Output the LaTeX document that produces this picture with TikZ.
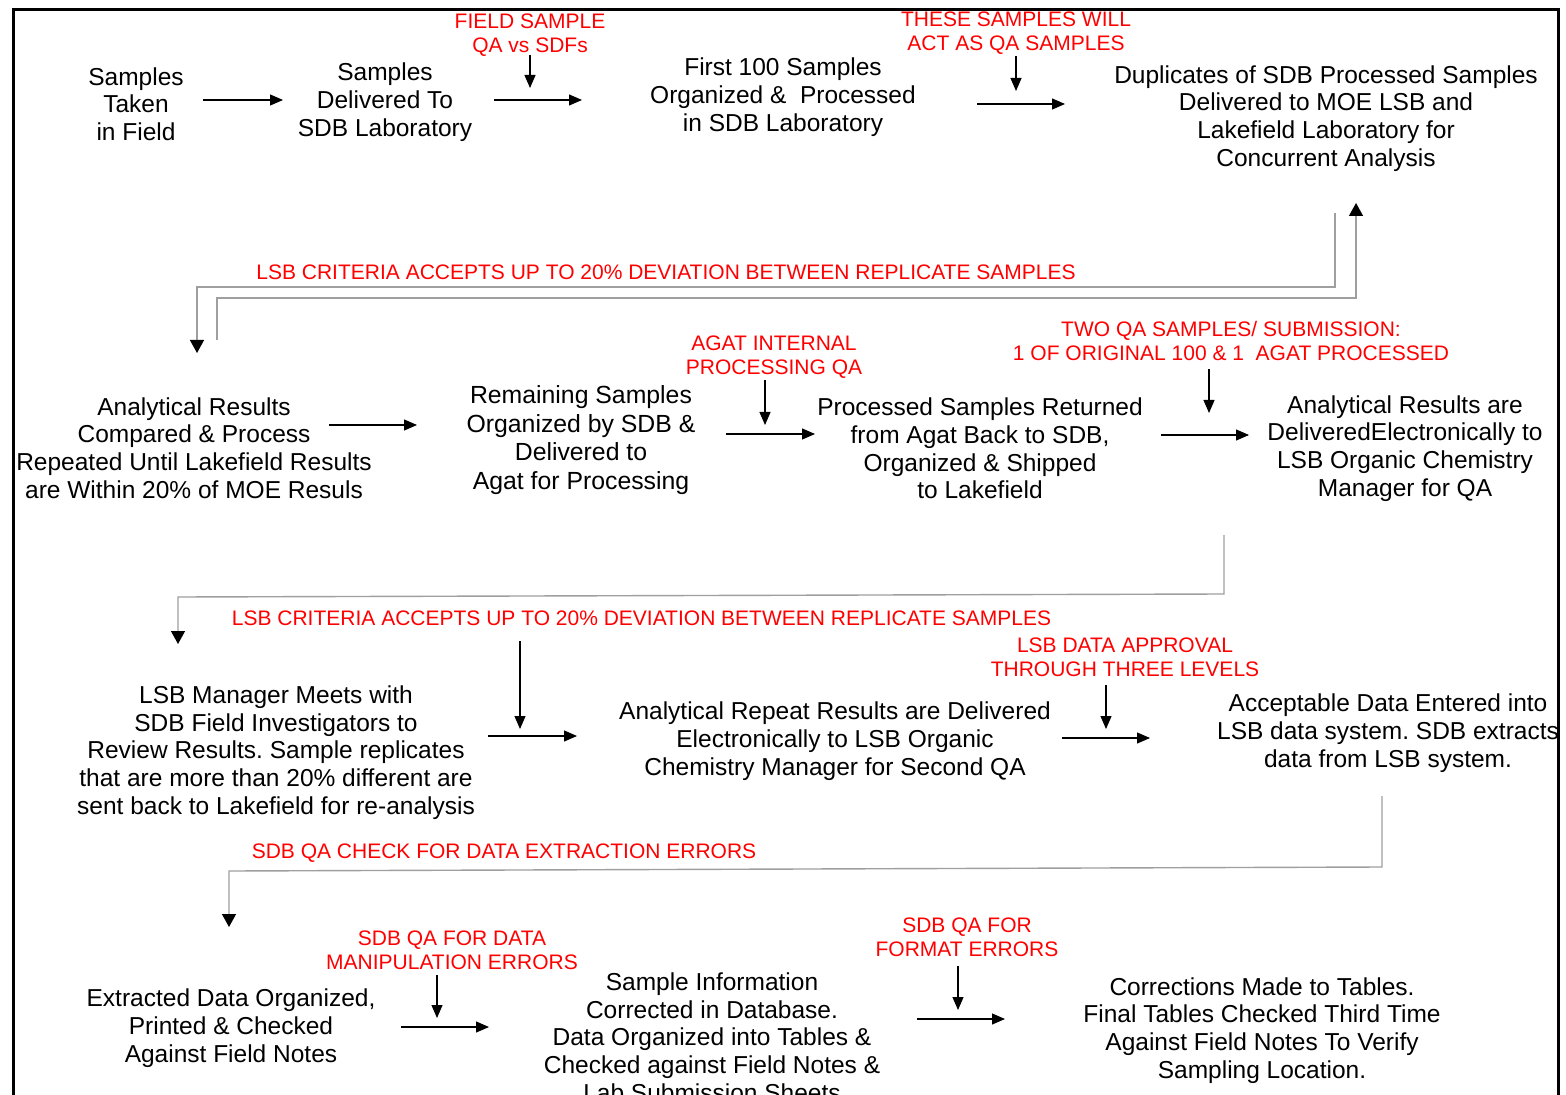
\documentclass[tikz,border=0pt]{standalone}
\usepackage{fontspec}
\setmainfont{Liberation Sans}
\usetikzlibrary{arrows.meta}
\frenchspacing
\begin{document}
\begin{tikzpicture}[x=0.5pt,y=-0.5pt,
  box/.style={align=center,inner sep=0pt,font=\frenchspacing\fontsize{12.25pt}{13.85pt}\selectfont},
  note/.style={align=center,inner sep=0pt,text=red,font=\fontsize{10.5pt}{11.75pt}\selectfont},
  arr/.style={line width=0.55pt,-{Triangle[length=6.5pt,width=5.5pt]}},
  backline/.style={draw=gray!75,line width=0.7pt,-{Triangle[length=6.5pt,width=7pt,color=black]}}]
\useasboundingbox (0,0) rectangle (1566,1095);
\clip (0,0) rectangle (1566,1095);
\fill[white] (0,0) rectangle (1566,1095);
% frame
\draw[line width=1.5pt,line join=miter] (13,1200) -- (13,10) -- (1558.5,10) -- (1558.5,1200);

% ---------- Row 1 ----------
\node[box] (n1) at (136,104) {Samples\\Taken\\in Field};
\node[box] (n2) at (385,102) {Samples\\Delivered To\\SDB Laboratory};
\node[box] (n3) at (783,97) {First 100 Samples\\Organized \&~ Processed\\in SDB Laboratory};
\node[box] (n4) at (1326,118.5) {Duplicates of SDB Processed Samples\\Delivered to MOE LSB and\\Lakefield Laboratory for\\Concurrent Analysis};
\node[note] (q1) at (530,35) {FIELD SAMPLE\\QA vs SDFs};
\node[note] (q2) at (1016,33) {THESE SAMPLES WILL\\ACT AS QA SAMPLES};

\coordinate (a1s) at (203,100); \coordinate (a1e) at (283,100);
\coordinate (a2s) at (494,100); \coordinate (a2e) at (582,100);
\coordinate (a3s) at (977,104); \coordinate (a3e) at (1065,104);
\draw[arr] (a1s) -- (a1e);
\draw[arr] (a2s) -- (a2e);
\draw[arr] (a3s) -- (a3e);
\coordinate (d1e) at (530,88); \draw[arr] (q1.south |- 0,55) -- (d1e);
\coordinate (d2e) at (1016,91); \draw[arr] (q2.south |- 0,56) -- (d2e);

% feedback between row 1 and row 2
\node[note] (q3) at (666,272) {LSB CRITERIA ACCEPTS UP TO 20\% DEVIATION BETWEEN REPLICATE SAMPLES};
\coordinate (fAs) at (1335,213); \coordinate (fAe) at (197,353);
\draw[backline] (fAs) -- (1335,287) -- (197,287) -- (fAe);
\coordinate (fBs) at (217,340); \coordinate (fBe) at (1356,203);
\draw[backline] (fBs) -- (217,298) -- (1356,298) -- (fBe);

% ---------- Row 2 ----------
\node[box] (m1) at (194,448) {Analytical Results\\Compared \& Process\\Repeated Until Lakefield Results\\are Within 20\% of MOE Resuls};
\node[box,font=\fontsize{12.4pt}{14.3pt}\selectfont] (m2) at (581,440) {Remaining Samples\\Organized by SDB \&\\Delivered to\\Agat for Processing};
\node[box] (m3) at (980,448.5) {Processed Samples Returned\\from Agat Back to SDB,\\Organized \& Shipped\\to Lakefield};
\node[box] (m4) at (1405,448.5) {Analytical Results are\\DeliveredElectronically to\\LSB Organic Chemistry\\Manager for QA};
\node[note] (q4) at (774,357) {AGAT INTERNAL\\PROCESSING QA};
\node[note] (q5) at (1231,341) {TWO QA SAMPLES/ SUBMISSION:\\1 OF ORIGINAL 100 \& 1~ AGAT PROCESSED};

\coordinate (b1s) at (329,425); \coordinate (b1e) at (417,425);
\coordinate (b2s) at (726,434); \coordinate (b2e) at (815,434);
\coordinate (b3s) at (1161,435); \coordinate (b3e) at (1249,435);
\draw[arr] (b1s) -- (b1e);
\draw[arr] (b2s) -- (b2e);
\draw[arr] (b3s) -- (b3e);
\coordinate (e1s) at (765,380); \coordinate (e1e) at (765,425); \draw[arr] (e1s) -- (e1e);
\coordinate (e2s) at (1209,369); \coordinate (e2e) at (1209,413); \draw[arr] (e2s) -- (e2e);

% connector row 2 -> row 3
\node[note] (q6) at (641.5,618) {LSB CRITERIA ACCEPTS UP TO 20\% DEVIATION BETWEEN REPLICATE SAMPLES};
\coordinate (fCs) at (1224,535); \coordinate (fCe) at (178,644);
\draw[backline] (fCs) -- (1224,594) -- (178,597) -- (fCe);

% ---------- Row 3 ----------
\node[box] (r1) at (276,752.5) {LSB Manager Meets with\\SDB Field Investigators to\\Review Results. Sample replicates\\that are more than 20\% different are\\sent back to Lakefield for re-analysis};
\node[box] (r2) at (835,741) {Analytical Repeat Results are Delivered\\Electronically to LSB Organic\\Chemistry Manager for Second QA};
\node[box] (r3) at (1388,733) {Acceptable Data Entered into\\LSB data system. SDB extracts\\data from LSB system.};
\node[note] (q7) at (1125,657.5) {LSB DATA APPROVAL\\THROUGH THREE LEVELS};

\coordinate (c1s) at (488,736); \coordinate (c1e) at (577,736);
\coordinate (c2s) at (1062,738); \coordinate (c2e) at (1150,738);
\draw[arr] (c1s) -- (c1e);
\draw[arr] (c2s) -- (c2e);
\coordinate (g1s) at (520,641); \coordinate (g1e) at (520,729); \draw[arr] (g1s) -- (g1e);
\coordinate (g2s) at (1106,685); \coordinate (g2e) at (1106,729); \draw[arr] (g2s) -- (g2e);

% connector row 3 -> row 4
\node[note] (q8) at (504,853) {SDB QA CHECK FOR DATA EXTRACTION ERRORS};
\coordinate (fDs) at (1382,796); \coordinate (fDe) at (229,927);
\draw[backline] (fDs) -- (1382,867) -- (229,871) -- (fDe);

% ---------- Row 4 ----------
\node[box] (s1) at (231,1028) {Extracted Data Organized,\\Printed \& Checked\\Against Field Notes};
\node[box] (s2) at (712,1037) {Sample Information\\Corrected in Database.\\Data Organized into Tables \&\\Checked against Field Notes \&\\Lab Submission Sheets};
\node[box] (s3) at (1262,1030.5) {Corrections Made to Tables.\\Final Tables Checked Third Time\\Against Field Notes To Verify\\Sampling Location.};
\node[note] (q9) at (452,950.5) {SDB QA FOR DATA\\MANIPULATION ERRORS};
\node[note] (q10) at (967,937.5) {SDB QA FOR\\FORMAT ERRORS};

\coordinate (h1s) at (401,1027); \coordinate (h1e) at (489,1027);
\coordinate (h2s) at (917,1019); \coordinate (h2e) at (1005,1019);
\draw[arr] (h1s) -- (h1e);
\draw[arr] (h2s) -- (h2e);
\coordinate (k1s) at (437,975); \coordinate (k1e) at (437,1018); \draw[arr] (k1s) -- (k1e);
\coordinate (k2s) at (958,966); \coordinate (k2e) at (958,1010); \draw[arr] (k2s) -- (k2e);
\end{tikzpicture}
\end{document}
